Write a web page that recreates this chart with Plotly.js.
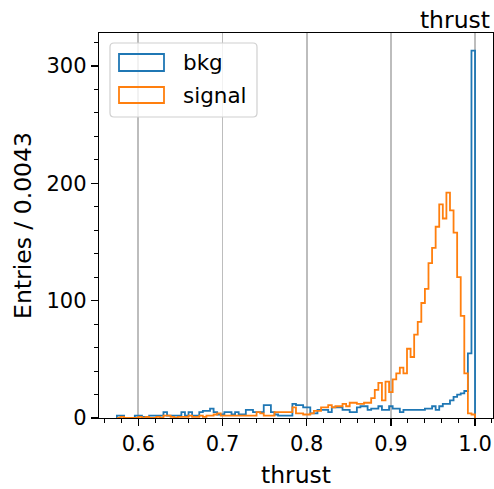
<!DOCTYPE html>
<html><head><meta charset="utf-8">
<script src="https://cdn.plot.ly/plotly-3.0.1.min.js"></script>
<style>html,body{margin:0;padding:0;background:#fff}#chart{width:494px;height:489px}</style>
</head><body><div id="chart"></div>
<script>
// histogram binning (100 bins)
const binLow = 0.57447;
const binWidth = 0.004255;
// counts per bin
const bkg = [
 2,2,0,0,0,2,2,1,1,2,
 2,2,2,5,2,2,2,2,5,2,
 5,2,2,5,6,6,8,5,3,3,
 5,5,3,5,3,3,7,7,5,5,
 5,11,11,5,3,2,2,2,2,12,
 11,11,9,9,4,4,7,7,7,5,
 9,9,9,7,7,5,5,9,10,10,
 7,8,8,10,7,7,10,8,8,5,
 7,7,7,7,7,7,8,8,10,7,
 10,12,12,15,18,20,21,23,55,313];
const signal = [
 0,1,0,0,0,0,1,0,1,0,
 0,1,0,2,2,1,0,1,1,1,
 2,1,1,2,1,2,2,3,4,2,
 2,2,2,2,2,2,2,2,2,5,
 4,2,2,2,5,5,5,5,5,9,
 4,4,3,3,4,6,6,9,9,11,
 9,10,10,12,10,13,13,12,12,13,
 13,17,24,30,15,31,22,33,38,43,
 38,59,52,71,82,98,110,132,145,163,
 182,170,192,177,158,120,87,38,4,3];
const seriesNames = ['bkg','signal'];
const seriesColors = ['#1f77b4','#ff7f0e'];
const xLabel = 'thrust';
const yLabel = 'Entries / 0.0043';
const titleText = 'thrust';

function stepTrace(counts, color, name){
  const x=[binLow], y=[0];
  for(let i=0;i<counts.length;i++){ x.push(binLow+i*binWidth); y.push(counts[i]); }
  x.push(binLow+counts.length*binWidth); y.push(0);
  return {type:'scatter', mode:'lines', x:x, y:y, name:name,
    line:{color:color, width:1.8, shape:'hv'}, showlegend:false, hoverinfo:'skip'};
}

// plot area in pixels
const PL=99, PR=493, PT=33, PB=418;
const px = v => (v-PL)/(PR-PL);
const py = v => (PB-v)/(PB-PT);
function roundRect(x0,y0,x1,y1,r){
  const rx=r/(PR-PL), ry=r/(PB-PT);
  const a=px(x0), b=px(x1), t=py(y0), d=py(y1);
  return `M${a+rx},${t} L${b-rx},${t} Q${b},${t} ${b},${t-ry} L${b},${d+ry} Q${b},${d} ${b-rx},${d} L${a+rx},${d} Q${a},${d} ${a},${d+ry} L${a},${t-ry} Q${a},${t} ${a+rx},${t} Z`;
}

const shapes = [
  {type:'path', xref:'paper', yref:'paper', path:roundRect(110,43,257,117,4),
   line:{color:'#d0d0d0', width:1.2}, fillcolor:'rgba(255,255,255,0.8)'},
  {type:'rect', xref:'paper', yref:'paper', x0:px(119), x1:px(164), y0:py(54), y1:py(71),
   line:{color:seriesColors[0], width:1.8}, fillcolor:'rgba(0,0,0,0)'},
  {type:'rect', xref:'paper', yref:'paper', x0:px(119), x1:px(164), y0:py(87), y1:py(103),
   line:{color:seriesColors[1], width:1.8}, fillcolor:'rgba(0,0,0,0)'}
];
const annotations = [
  {xref:'paper', yref:'paper', x:px(181), y:py(62), xanchor:'left', yanchor:'middle',
   text:seriesNames[0], showarrow:false, font:{size:21.5, color:'#000'}},
  {xref:'paper', yref:'paper', x:px(181), y:py(95), xanchor:'left', yanchor:'middle',
   text:seriesNames[1], showarrow:false, font:{size:21.5, color:'#000'}}
];

const data = [stepTrace(bkg, seriesColors[0], seriesNames[0]),
              stepTrace(signal, seriesColors[1], seriesNames[1])];

const layout = {
  width:494, height:489,
  margin:{l:PL, r:494-PR, t:PT, b:489-PB},
  paper_bgcolor:'#fff', plot_bgcolor:'#fff',
  font:{family:'DejaVu Sans', size:21, color:'#000'},
  showlegend:false,
  title:{text:titleText, xref:'paper', x:1, xanchor:'right', yref:'paper', y:1, yanchor:'bottom',
         pad:{b:5, r:3}, font:{size:23.5, color:'#000'}},
  xaxis:{range:[0.5532,1.0213], tickmode:'linear', tick0:0.6, dtick:0.1, tickformat:'.1f',
    ticks:'outside', ticklen:7, tickwidth:1.3, tickcolor:'#000',
    showline:true, linecolor:'#000', linewidth:1.2, mirror:true,
    showgrid:true, gridcolor:'#bdbdbd', gridwidth:1.8, zeroline:false,
    minor:{tickmode:'linear', tick0:0, dtick:0.02, ticks:'outside', ticklen:4, tickwidth:1, tickcolor:'#000', showgrid:false},
    tickfont:{size:21}, title:{text:xLabel, font:{size:23.5}, standoff:12}},
  yaxis:{range:[0,328.1], tickmode:'linear', tick0:0, dtick:100,
    ticks:'outside', ticklen:7, tickwidth:1.3, tickcolor:'#000',
    showline:true, linecolor:'#000', linewidth:1.2, mirror:true,
    showgrid:false, zeroline:false,
    minor:{tickmode:'linear', tick0:0, dtick:20, ticks:'outside', ticklen:4, tickwidth:1, tickcolor:'#000', showgrid:false},
    tickfont:{size:21}, title:{text:yLabel, font:{size:23.5}, standoff:8}},
  shapes:shapes, annotations:annotations
};
Plotly.newPlot('chart', data, layout, {displayModeBar:false, staticPlot:true});
</script>
</body></html>
